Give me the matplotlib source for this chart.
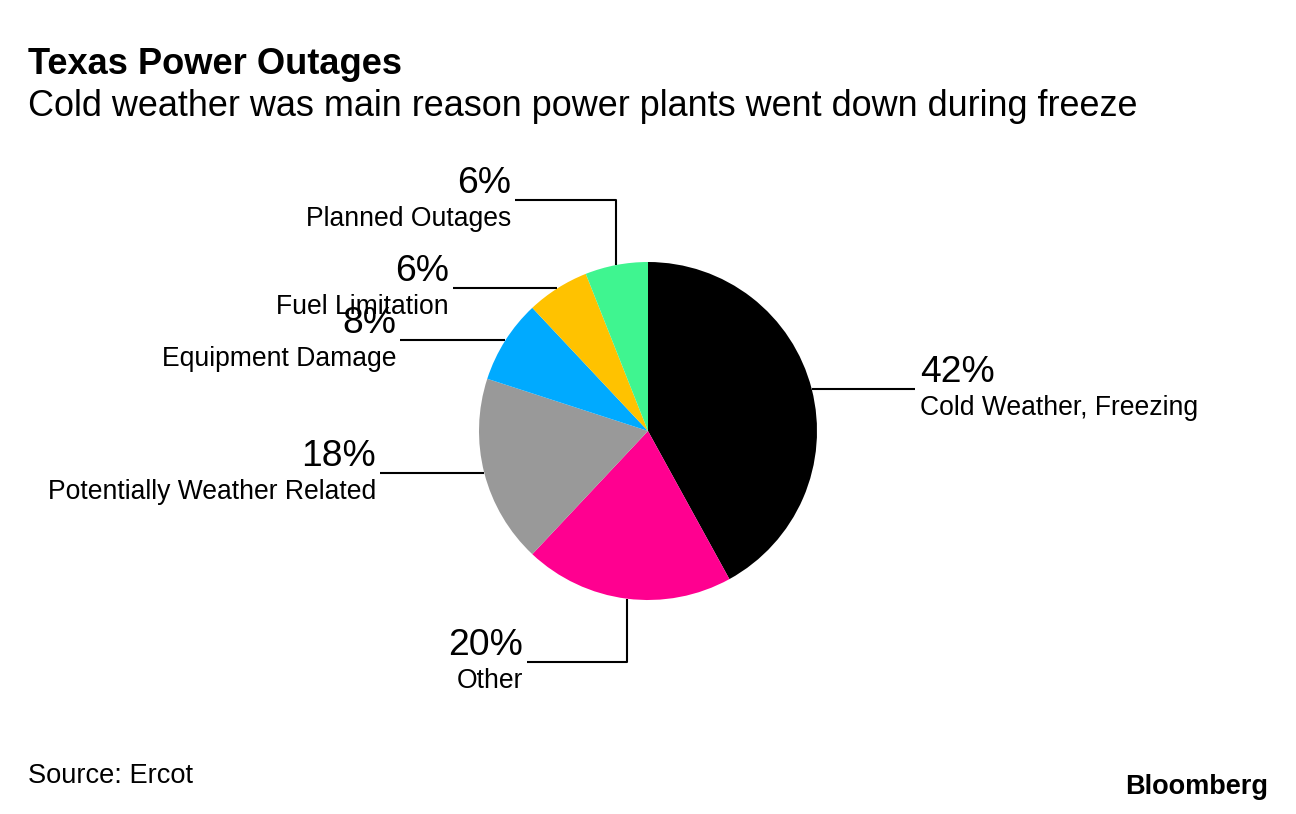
import numpy as np
import matplotlib.pyplot as plt

labels = ['Cold Weather, Freezing', 'Other', 'Potentially Weather Related',
          'Equipment Damage', 'Fuel Limitation', 'Planned Outages']
values = [42, 20, 18, 8, 6, 6]
colors = ['#000000', '#FF0090', '#999999', '#00AAFF', '#FFC200', '#3FF590']

W, H = 1296, 814
plt.rcParams['font.family'] = ['Liberation Sans', 'DejaVu Sans']

fig = plt.figure(figsize=(W / 100, H / 100), dpi=100)
ax = fig.add_axes([0, 0, 1, 1])

def py(y):
    # pixel row (from top) -> data y
    return H - y

cx, cy, r = 648, 431, 169
wedges, _ = ax.pie(values, colors=colors, startangle=90, counterclock=False,
                   center=(cx, py(cy)), radius=r, frame=True,
                   wedgeprops=dict(linewidth=0))
ax.set_xlim(0, W)
ax.set_ylim(0, H)
ax.axis('off')

# leader routing: (side, elbow row or None, end x)
routes = [('right', None, 915), ('left', 662, 527), ('left', None, 380),
          ('left', None, 400), ('left', None, 453), ('left', 200, 515)]

for w, lab, val, (side, elbow, xend) in zip(wedges, labels, values, routes):
    mid = np.deg2rad((w.theta1 + w.theta2) / 2)
    x0 = cx + r * np.cos(mid)
    y0 = py(cy) + r * np.sin(mid)
    if elbow is None:
        xs, ys = [x0, xend], [y0, y0]
        yl = y0
    else:
        xs, ys = [x0, x0, xend], [y0, py(elbow), py(elbow)]
        yl = py(elbow)
    ax.plot(xs, ys, color='black', lw=1.5, solid_capstyle='butt')
    if side == 'right':
        tx, ha = xend + 5, 'left'
    else:
        tx, ha = xend - 4, 'right'
    ax.text(tx, yl + 7, f'{val}%', fontsize=26.8, ha=ha, va='baseline')
    ax.text(tx, yl - 26, lab, fontsize=19.1, ha=ha, va='baseline')

fig.text(28 / W, 1 - 74 / H, 'Texas Power Outages', fontsize=26.1,
         fontweight='bold', va='baseline', ha='left')
fig.text(28 / W, 1 - 116 / H, 'Cold weather was main reason power plants went down during freeze',
         fontsize=25.9, va='baseline', ha='left')
fig.text(28 / W, 1 - 783 / H, 'Source: Ercot', fontsize=19.6, va='baseline', ha='left')
fig.text(1268 / W, 1 - 794 / H, 'Bloomberg', fontsize=19.5, fontweight='bold',
         va='baseline', ha='right')

fig.savefig('out.png', dpi=100)
